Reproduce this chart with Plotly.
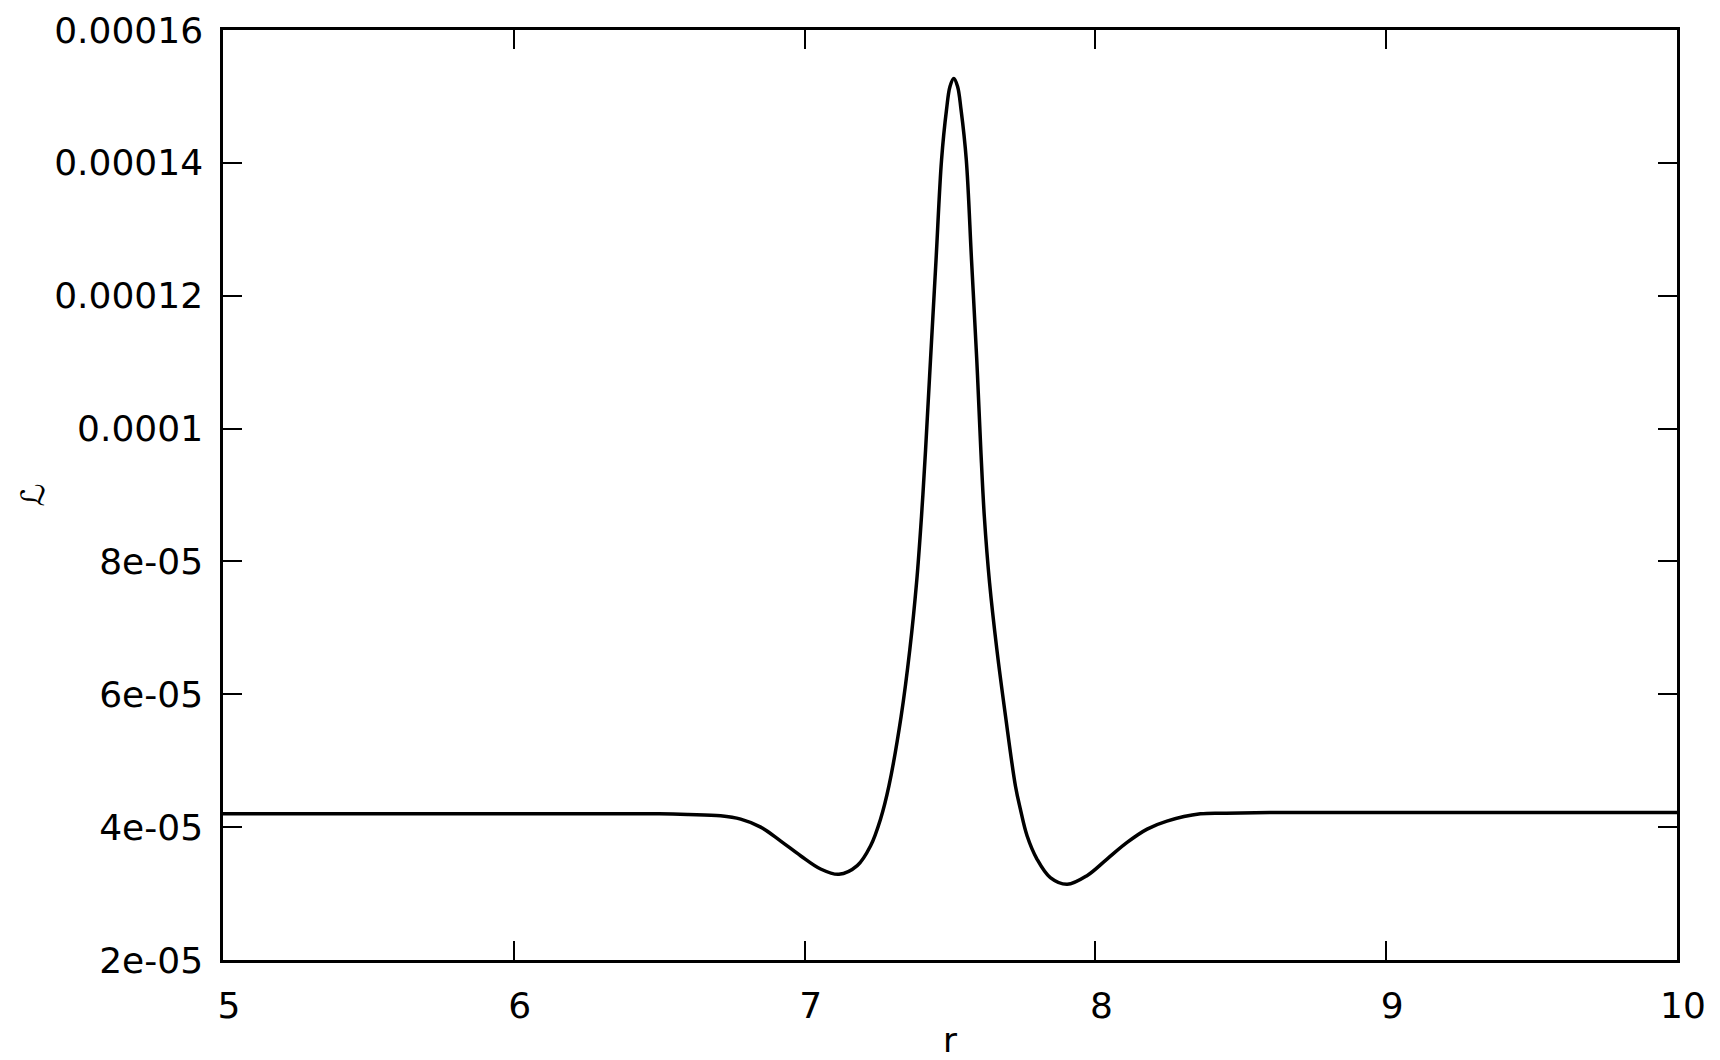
import plotly.graph_objects as go

# radius values and the Lagrangian density (in units of 1e-5)
r = [5.0, 5.5, 6.0, 6.5, 6.6, 6.711, 6.78, 6.849, 6.918, 6.986, 7.055, 7.118,
     7.181, 7.227, 7.261, 7.290, 7.332, 7.362, 7.385, 7.402, 7.416, 7.433,
     7.452, 7.471, 7.488, 7.500, 7.513, 7.526, 7.538, 7.556, 7.574, 7.592,
     7.606, 7.618, 7.636, 7.661, 7.691, 7.725, 7.742, 7.765, 7.799, 7.845,
     7.903, 7.971, 8.040, 8.109, 8.178, 8.246, 8.361, 8.45, 8.6, 9.0, 9.5, 10.0]
L_e5 = [4.20, 4.20, 4.20, 4.20, 4.19, 4.17, 4.12, 4.00, 3.79, 3.57, 3.37, 3.29,
        3.42, 3.72, 4.12, 4.62, 5.67, 6.68, 7.68, 8.68, 9.68, 11.04,
        12.54, 14.05, 14.80, 15.15, 15.27, 15.15, 14.80, 14.05, 12.54, 11.04,
        9.68, 8.68, 7.68, 6.68, 5.67, 4.62, 4.27, 3.87, 3.52, 3.24,
        3.14, 3.27, 3.52, 3.77, 3.97, 4.09, 4.20, 4.21, 4.22, 4.22, 4.22, 4.22]
L = [v * 1e-5 for v in L_e5]

x_ticks = [5, 6, 7, 8, 9, 10]
y_ticks = [2e-5, 4e-5, 6e-5, 8e-5, 1e-4, 1.2e-4, 1.4e-4, 1.6e-4]
y_ticktext = ["2e-05", "4e-05", "6e-05", "8e-05", "0.0001", "0.00012", "0.00014", "0.00016"]

fig = go.Figure()
fig.add_trace(go.Scatter(
    x=r, y=L, mode="lines",
    line=dict(color="black", width=3.5, shape="spline", smoothing=1.0),
    showlegend=False,
))

axis_style = dict(
    showline=True, linecolor="black", linewidth=2.5, mirror="ticks",
    ticks="inside", ticklen=19, tickwidth=2, tickcolor="black",
    showgrid=False, zeroline=False, automargin=False,
    tickfont=dict(family="DejaVu Sans", size=36, color="black"),
)

fig.update_xaxes(
    range=[5, 10], tickvals=x_ticks, ticklabelshift=6, ticklabelstandoff=12,
    title=dict(text="r", font=dict(family="DejaVu Sans", size=34, color="black"), standoff=12),
    **axis_style,
)
fig.update_yaxes(
    range=[2e-5, 1.6e-4], tickvals=y_ticks, ticktext=y_ticktext, ticklabelstandoff=10,
    title=dict(text="ℒ", font=dict(family="DejaVu Sans", size=32, color="black"), standoff=0),
    **axis_style,
)

fig.update_layout(
    width=1720, height=1060,
    margin=dict(l=223, r=43, t=30, b=100),
    plot_bgcolor="white", paper_bgcolor="white",
    font=dict(family="DejaVu Sans", color="black"),
)

# drop the default body margin so the figure sits at the window corner
fig.write_html("out.html", config={"displayModeBar": False},
               post_script="document.body.style.margin = '0';")
